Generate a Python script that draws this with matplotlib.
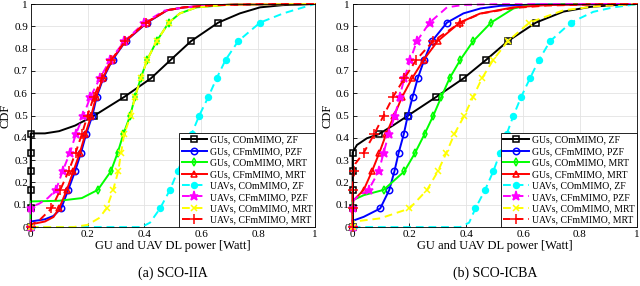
import numpy as np
import matplotlib
matplotlib.use("Agg")
import matplotlib.pyplot as plt

plt.rcParams["font.family"] = ["Liberation Serif", "DejaVu Serif"]

# CDF levels where markers sit (every 1/12)
LEVELS = [k / 12 for k in range(12)]

# ─── panel (a) SCO-IIA: x at marker levels + extra line points (x, y) ────────
a_gu_com_zf_mk = [0, 0, 0, 0, 0, 0, 0.224, 0.329, 0.423, 0.493, 0.564, 0.66]
a_gu_com_zf_ex = ([0.0, 0.05, 0.1, 0.156, 0.736, 0.807, 0.888, 1.0],
                  [0.42, 0.42, 0.43, 0.455, 0.958, 0.985, 0.995, 1.0])
a_gu_cf_pzf_mk = [0, 0.107, 0.132, 0.156, 0.177, 0.195, 0.217, 0.232, 0.255, 0.288, 0.334, 0.41]
a_gu_cf_pzf_ex = ([0.0, 0.05, 0.08, 0.48, 0.54, 0.65, 0.8, 1.0],
                  [0.025, 0.035, 0.05, 0.972, 0.985, 0.995, 0.999, 1.0])
a_gu_com_mrt_mk = [0, 0, 0.236, 0.282, 0.306, 0.326, 0.35, 0.367, 0.387, 0.41, 0.443, 0.486]
a_gu_com_mrt_ex = ([0.0, 0.1, 0.18, 0.525, 0.584, 0.7, 0.85, 1.0],
                   [0.115, 0.118, 0.13, 0.958, 0.985, 0.997, 0.999, 1.0])
a_gu_cf_mrt_mk = [0, 0.10, 0.127, 0.15, 0.173, 0.192, 0.213, 0.23, 0.253, 0.286, 0.333, 0.408]
a_gu_cf_mrt_ex = ([0.0, 0.05, 0.08, 0.48, 0.54, 0.65, 0.8, 1.0],
                  [0.012, 0.025, 0.045, 0.972, 0.985, 0.995, 0.999, 1.0])
a_uav_com_zf_mk = [0, 0.455, 0.49, 0.517, 0.544, 0.566, 0.593, 0.625, 0.654, 0.686, 0.73, 0.807]
a_uav_com_zf_ex = ([0.39, 0.42, 0.889, 0.959, 1.0],
                   [0.0, 0.02, 0.958, 0.985, 1.0])
a_uav_cf_pzf_mk = [0, 0, 0.089, 0.112, 0.138, 0.159, 0.185, 0.21, 0.243, 0.28, 0.33, 0.40]
a_uav_cf_pzf_ex = ([0.0, 0.03, 0.06, 0.47, 0.54, 0.65, 0.8, 1.0],
                   [0.09, 0.105, 0.13, 0.97, 0.985, 0.995, 0.999, 1.0])
a_uav_com_mrt_mk = [0, 0.267, 0.29, 0.308, 0.318, 0.329, 0.352, 0.367, 0.387, 0.41, 0.443, 0.486]
a_uav_com_mrt_ex = ([0.15, 0.2, 0.24, 0.525, 0.584, 0.7, 0.85, 1.0],
                    [0.0, 0.01, 0.04, 0.958, 0.985, 0.997, 0.999, 1.0])
a_uav_cf_mrt_mk = [0, 0.073, 0.104, 0.133, 0.158, 0.18, 0.2, 0.222, 0.25, 0.284, 0.332, 0.405]
a_uav_cf_mrt_ex = ([0.0, 0.03, 0.05, 0.48, 0.54, 0.65, 0.8, 1.0],
                   [0.01, 0.03, 0.055, 0.972, 0.985, 0.995, 0.999, 1.0])

# ─── panel (b) SCO-ICBA ──────────────────────────────────────────────────────
b_gu_com_zf_mk = [0, 0, 0, 0, 0, 0.092, 0.195, 0.294, 0.39, 0.47, 0.546, 0.645]
b_gu_com_zf_ex = ([0.0, 0.015, 0.05, 0.144, 0.742, 0.836, 0.918, 1.0],
                  [0.335, 0.368, 0.398, 0.457, 0.966, 0.987, 0.995, 1.0])
b_gu_cf_pzf_mk = [0, 0.097, 0.129, 0.147, 0.162, 0.18, 0.194, 0.211, 0.229, 0.252, 0.279, 0.332]
b_gu_cf_pzf_ex = ([0.0, 0.039, 0.39, 0.45, 0.52, 0.65, 1.0],
                  [0.028, 0.046, 0.958, 0.98, 0.992, 0.998, 1.0])
b_gu_com_mrt_mk = [0, 0, 0.109, 0.182, 0.22, 0.253, 0.284, 0.312, 0.341, 0.379, 0.424, 0.487]
b_gu_com_mrt_ex = ([0.0, 0.039, 0.566, 0.624, 0.75, 1.0],
                   [0.12, 0.143, 0.98, 0.995, 0.999, 1.0])
b_gu_cf_mrt_mk = [0, 0, 0.039, 0.068, 0.094, 0.118, 0.146, 0.174, 0.209, 0.25, 0.299, 0.377]
b_gu_cf_mrt_ex = ([0.003, 0.448, 0.566, 0.683, 0.85, 1.0],
                  [0.12, 0.957, 0.985, 0.995, 0.999, 1.0])
b_uav_com_zf_mk = [0, 0.432, 0.466, 0.495, 0.519, 0.542, 0.566, 0.593, 0.624, 0.656, 0.695, 0.768]
b_uav_com_zf_ex = ([0.379, 0.41, 0.847, 0.918, 1.0],
                   [0.0, 0.02, 0.965, 0.985, 0.999])
b_uav_cf_pzf_mk = [0, 0, 0.056, 0.092, 0.109, 0.127, 0.149, 0.165, 0.182, 0.203, 0.226, 0.271]
b_uav_cf_pzf_ex = ([0.0, 0.02, 0.332, 0.39, 0.5, 1.0],
                   [0.115, 0.14, 0.985, 0.996, 0.999, 1.0])
b_uav_com_mrt_mk = [0, 0.2, 0.262, 0.3, 0.33, 0.358, 0.393, 0.424, 0.455, 0.495, 0.546, 0.622]
b_uav_com_mrt_ex = ([0.0, 0.097, 0.742, 0.859, 1.0],
                    [0.024, 0.039, 0.972, 0.99, 1.0])
b_uav_cf_mrt_mk = [0, 0, 0, 0.004, 0.039, 0.076, 0.109, 0.142, 0.182, 0.224, 0.283, 0.379]
b_uav_cf_mrt_ex = ([0.01, 0.45, 0.566, 0.683, 0.85, 1.0],
                   [0.285, 0.957, 0.982, 0.993, 0.998, 1.0])

labels = ["GUs, COmMIMO, ZF", "GUs, CFmMIMO, PZF", "GUs, COmMIMO, MRT", "GUs, CFmMIMO, MRT",
          "UAVs, COmMIMO, ZF", "UAVs, CFmMIMO, PZF", "UAVs, COmMIMO, MRT", "UAVs, CFmMIMO, MRT"]

styles = [
    dict(color="k", ls="-", marker="s", mfc="none", ms=3.8),
    dict(color="#0000ff", ls="-", marker="o", mfc="none", ms=4.6),
    dict(color="#00ff00", ls="-", marker="d", mfc="none", ms=4.2),
    dict(color="#ff0000", ls="-", marker="^", mfc="none", ms=4.6),
    dict(color="#00ffff", ls="--", marker="o", mfc="#00ffff", ms=4.2),
    dict(color="#ff00ff", ls="--", marker="*", mfc="#ff00ff", ms=6.5),
    dict(color="#ffff00", ls="--", marker="x", mfc="none", ms=4.5),
    dict(color="#ff0000", ls="--", marker="+", mfc="none", ms=6.5),
]

panel_a = [(a_gu_com_zf_mk, a_gu_com_zf_ex), (a_gu_cf_pzf_mk, a_gu_cf_pzf_ex),
           (a_gu_com_mrt_mk, a_gu_com_mrt_ex), (a_gu_cf_mrt_mk, a_gu_cf_mrt_ex),
           (a_uav_com_zf_mk, a_uav_com_zf_ex), (a_uav_cf_pzf_mk, a_uav_cf_pzf_ex),
           (a_uav_com_mrt_mk, a_uav_com_mrt_ex), (a_uav_cf_mrt_mk, a_uav_cf_mrt_ex)]
panel_b = [(b_gu_com_zf_mk, b_gu_com_zf_ex), (b_gu_cf_pzf_mk, b_gu_cf_pzf_ex),
           (b_gu_com_mrt_mk, b_gu_com_mrt_ex), (b_gu_cf_mrt_mk, b_gu_cf_mrt_ex),
           (b_uav_com_zf_mk, b_uav_com_zf_ex), (b_uav_cf_pzf_mk, b_uav_cf_pzf_ex),
           (b_uav_com_mrt_mk, b_uav_com_mrt_ex), (b_uav_cf_mrt_mk, b_uav_cf_mrt_ex)]


def draw_curve(ax, mk, ex, label, st):
    xs = np.array(list(mk) + list(ex[0]))
    ys = np.array(LEVELS + list(ex[1]))
    is_mk = np.array([True] * len(mk) + [False] * len(ex[0]))
    order = np.lexsort((xs, ys))
    xs, ys, is_mk = xs[order], ys[order], is_mk[order]
    ax.plot(xs, ys, color=st["color"], ls=st["ls"], lw=1.4, marker=st["marker"],
            mfc=st["mfc"], mec=st["color"], ms=st["ms"], mew=1.1,
            markevery=list(np.where(is_mk)[0]), label=label,
            dashes=(4, 2.5) if st["ls"] == "--" else (None, None))


def setup_axes(ax, caption):
    ax.set_xlim(0, 1)
    ax.set_ylim(0, 1)
    ax.set_xticks(np.arange(0, 1.01, 0.2))
    ax.set_xticklabels(["0", "0.2", "0.4", "0.6", "0.8", "1"])
    ax.set_yticks(np.arange(0, 1.01, 0.1))
    ax.set_yticklabels(["0", "0.1", "0.2", "0.3", "0.4", "0.5", "0.6", "0.7", "0.8", "0.9", "1"])
    ax.tick_params(direction="in", length=3, labelsize=8, pad=2, width=0.6)
    ax.grid(True, color="#e3e3e3", lw=0.6)
    ax.set_axisbelow(True)
    for s in ax.spines.values():
        s.set_linewidth(0.6)
    ax.set_xlabel("GU and UAV DL power [Watt]", fontsize=9, labelpad=1)
    ax.set_ylabel("CDF", fontsize=9, labelpad=2)
    ax.text(0.5, -0.205, caption, transform=ax.transAxes, ha="center", va="center",
            fontsize=10)
    ax.legend(loc="lower right", fontsize=7.0, frameon=True, fancybox=False,
              edgecolor="k", framealpha=1, borderpad=0.25, labelspacing=0.25,
              handlelength=2.6, handletextpad=0.3, borderaxespad=0.0)
    ax.get_legend().get_frame().set_linewidth(0.6)


fig = plt.figure(figsize=(6.4, 2.86), dpi=100)
ax_a = fig.add_axes([0.048, 0.206, 0.444, 0.78])
ax_b = fig.add_axes([0.551, 0.206, 0.444, 0.78])

for ax, panel, cap in [(ax_a, panel_a, "(a) SCO-IIA"), (ax_b, panel_b, "(b) SCO-ICBA")]:
    for (mk, ex), lab, st in zip(panel, labels, styles):
        draw_curve(ax, mk, ex, lab, st)
    for ln in ax.lines:
        ln.set_clip_on(False)
    setup_axes(ax, cap)

fig.savefig("out.png", dpi=100)
